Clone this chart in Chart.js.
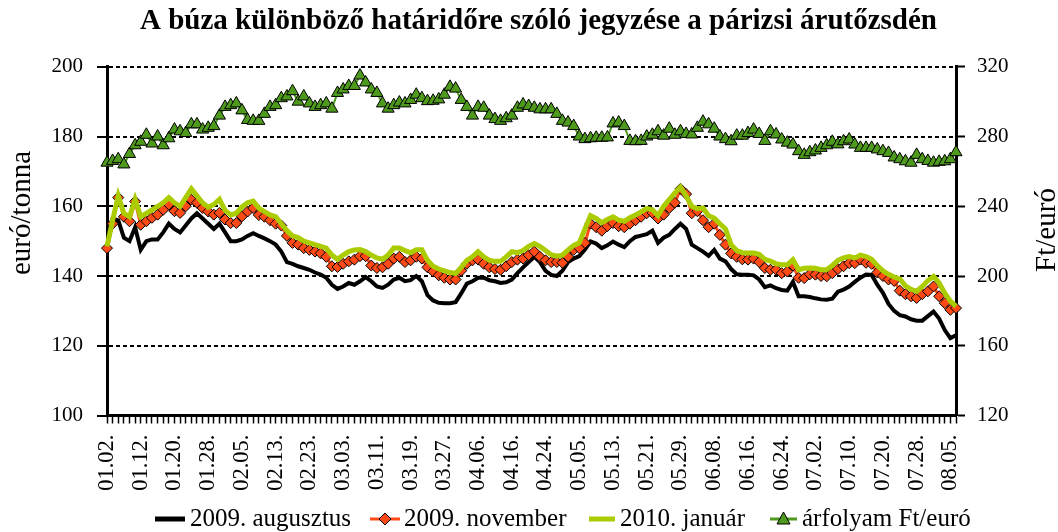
<!DOCTYPE html>
<html>
<head>
<meta charset="utf-8">
<script src="https://cdn.jsdelivr.net/npm/chart.js@4.4.1/dist/chart.umd.min.js"></script>
<style>
html,body{margin:0;padding:0;background:#ffffff;}
#wrap{width:1058px;height:532px;}
</style>
</head>
<body>
<div id="wrap"><canvas id="c" width="1058" height="532"></canvas></div>
<script>
const titleText = 'A búza különböző határidőre szóló jegyzése a párizsi árutőzsdén';
const leftAxisTitle = 'euró/tonna';
const rightAxisTitle = 'Ft/euró';
const seriesNames = ['2009. augusztus', '2009. november', '2010. január', 'árfolyam Ft/euró'];

// trading days (2009), every 6th one is labelled
const dates = [
 '01.02.','01.05.','01.06.','01.07.','01.08.','01.09.','01.12.','01.13.','01.14.','01.15.','01.16.','01.19.','01.20.','01.21.','01.22.','01.23.','01.26.','01.27.','01.28.','01.29.','01.30.',
 '02.02.','02.03.','02.04.','02.05.','02.06.','02.09.','02.10.','02.11.','02.12.','02.13.','02.16.','02.17.','02.18.','02.19.','02.20.','02.23.','02.24.','02.25.','02.26.','02.27.',
 '03.02.','03.03.','03.04.','03.05.','03.06.','03.09.','03.10.','03.11.','03.12.','03.13.','03.16.','03.17.','03.18.','03.19.','03.20.','03.23.','03.24.','03.25.','03.26.','03.27.','03.30.','03.31.',
 '04.01.','04.02.','04.03.','04.06.','04.07.','04.08.','04.09.','04.14.','04.15.','04.16.','04.17.','04.20.','04.21.','04.22.','04.23.','04.24.','04.27.','04.28.','04.29.','04.30.',
 '05.04.','05.05.','05.06.','05.07.','05.08.','05.11.','05.12.','05.13.','05.14.','05.15.','05.18.','05.19.','05.20.','05.21.','05.22.','05.25.','05.26.','05.27.','05.28.','05.29.',
 '06.01.','06.02.','06.03.','06.04.','06.05.','06.08.','06.09.','06.10.','06.11.','06.12.','06.15.','06.16.','06.17.','06.18.','06.19.','06.22.','06.23.','06.24.','06.25.','06.26.','06.29.','06.30.',
 '07.01.','07.02.','07.03.','07.06.','07.07.','07.08.','07.09.','07.10.','07.13.','07.14.','07.15.','07.16.','07.17.','07.20.','07.21.','07.22.','07.23.','07.24.','07.27.','07.28.','07.29.','07.30.','07.31.',
 '08.03.','08.04.','08.05.','08.06.'
];
const labelEvery = 6;

const leftAxis = {min: 100, max: 200, step: 20};
const rightAxis = {min: 120, max: 320, step: 40};

const aug2009 = [
 148,156.5,156,151,150,154,147.5,150,150.5,150.5,152.5,155,153.5,152.5,154.5,156.5,158,156.5,155,153.5,155,152.5,150,150,150.5,
 151.5,152.3,151.5,150.8,150,149,147,144,143.5,142.8,142.3,141.8,141,140.4,139.5,137.5,136.3,137,138,137.5,138.5,139.7,138.5,137,136.6,
 137.5,139,139.5,138.5,138.8,140,138.5,134.5,133,132.3,132.2,132.2,132.5,135,137.8,138.5,139.5,139.5,138.8,138.5,138,138.2,139,140.8,142.5,144,
 145.5,144,141.5,140.3,140,141.5,144,145,145.7,147.6,149.9,149.3,148,148.8,149.9,149,148.3,150,151.2,151.6,152,153,149.5,151,151.8,153.5,
 155,153.5,149,148,147,145.8,147.5,145,144.2,142,140.5,140.4,140.4,140.2,139,136.8,137.3,136.5,136,135.8,138.3,134.2,134.2,134,133.6,133.3,
 133.2,133.5,135.5,136.1,137,138.3,139.5,140.4,140.3,137.5,135.2,132,130,128.8,128.4,127.6,127.2,127.2,128.5,129.8,127.8,124.5,122.2,123
];
const nov2009 = [
 148,155,162.5,157,155.7,161.4,154.7,155.7,156.7,157.6,159,160.5,158.6,158.1,160,161.9,161,159.5,158.5,157.6,158.1,156.2,155.2,155.2,157.1,
 158.5,159.5,157.5,157,156,155,154.5,151.5,149.5,149,148,147.5,147,146.5,145.5,142.8,142.6,143.5,144.2,144.7,145.7,145.7,143,142.3,142.5,
 143.5,145,145.5,144,144.5,145.5,145,142.5,141.3,140.2,139.5,139,139,141.5,143.5,144.5,144.7,143.5,142.5,142,141.8,142.8,144,144.7,145,146,
 147,145.5,144.5,144,144,143.8,145.5,147.5,148,149.5,155,154,153,154.3,155.2,154.3,154,155,156,157,158,158.1,156.5,157.6,159.5,161,
 165,163.5,158,158.6,156,154,155,151.8,149,146.5,145.5,144.8,144.7,145,144,142.3,141.8,141.8,140.8,141.3,143,139.5,139.4,140.5,140.4,140,
 139.9,140.8,142,142.8,143.7,143.7,144.7,143.8,143.5,141,140,139,138.6,135.8,134.8,134.2,133.7,134.8,135.6,137,134.2,132.2,130.3,130.8
];
const jan2010 = [
 148.5,156,163,158,157,162,157,158,159,160,161,162.5,161,160,162.5,165,163,161,159.7,160.5,162,158.8,157.5,158,159.8,
 161,161.5,159.5,158.5,157.5,157,155,153,151.5,151,150,149.5,149,148.5,148,146,144.8,146,147,147.5,147.6,147,146,145.2,144.8,
 146,148,148,147.3,146.7,147.5,147.5,144.5,142.8,142,141.5,141,140.7,142.5,144.5,145.5,147,145.5,144.5,144.2,144.2,145.5,147,146.7,147.3,148.5,
 149.3,148.5,147.3,146.1,145.7,146,147.5,148.8,149.5,153.5,157.3,156.5,155.3,156.2,157,156,155.7,156.7,157.5,158.4,159.4,159,157.3,160,161.9,163.8,
 165.5,163,160,159.3,159.5,157.3,156.6,155,153.5,149,147.3,146.7,146.6,146.6,146.2,144.8,144.3,143.5,143.2,143.2,144.7,141.8,142.2,142.3,142.2,141.8,
 141.8,143,144.5,145.2,145.6,145.2,146,145.6,144.8,143,141.5,140.5,139.7,139.2,137.2,136.2,135.6,137,138.7,139.9,138,135.1,132.8,131.3
];
const hufPerEur = [
 265,266,267,264,270,275,277,281,276,280,275,279,284,283,282,287,287,284,285,286,292,297,298,299,295,
 289.5,289,289,293,297,298,302,303,306,300,303,299,297,298,299,296,305,307,309,309,315,311,307,305,299,
 296,298,299.5,299,301,304,302,300.3,300.5,301.3,304,308.5,307.5,301,297,292,297,296.5,292,290,289,290.5,292,296.5,298.4,297.5,
 296.5,295.6,295.6,295.6,293,289,288,286,280,278.5,279,279.3,279.3,279.5,287.5,288,286,277.5,277.3,277.5,280,281,283,280.5,284.5,281,
 283,281.5,281.2,285,288.5,287,284.5,280,278.5,277.3,280.5,280.5,282,284,281.5,277.5,283,281.2,278.3,276.5,275.4,271.6,269.5,271,272,273.5,
 275,277,275.5,277.3,278.3,275.4,273.5,273.5,273.5,272.6,271.6,270.6,268,267,265.8,265,269.5,267,266,265,265.5,265.8,267,271
];

const FONT = '"Liberation Serif", "Times New Roman", serif';
const C_BLACK = '#000000';
const C_ORANGE = '#FF4A17';
const C_LIME = '#AACC00';
const C_GREEN = '#4E9A1C';

// axis titles + legend drawn on the canvas as text
const extras = {
  id: 'extras',
  afterDraw(chart) {
    const ctx = chart.ctx;
    ctx.save();
    ctx.fillStyle = '#000';
    ctx.font = '29px ' + FONT;
    ctx.textAlign = 'center';
    ctx.textBaseline = 'middle';
    ctx.save(); ctx.translate(22, 213); ctx.rotate(-Math.PI / 2); ctx.fillText(leftAxisTitle, 0, 0); ctx.restore();
    ctx.save(); ctx.translate(1047, 230); ctx.rotate(-Math.PI / 2); ctx.fillText(rightAxisTitle, 0, 0); ctx.restore();

    const ly = 519;
    const items = [
      {x0: 155, x1: 185, tx: 190, color: C_BLACK, w: 5, marker: null},
      {x0: 370, x1: 400, tx: 404, color: C_ORANGE, w: 3, marker: 'diamond'},
      {x0: 589, x1: 615, tx: 620, color: C_LIME, w: 5, marker: null},
      {x0: 770, x1: 797, tx: 802, color: C_GREEN, w: 3, marker: 'triangle'}
    ];
    ctx.font = '25px ' + FONT;
    ctx.textAlign = 'left';
    items.forEach((it, i) => {
      ctx.strokeStyle = it.color; ctx.lineWidth = it.w;
      ctx.beginPath(); ctx.moveTo(it.x0, ly); ctx.lineTo(it.x1, ly); ctx.stroke();
      const cx = (it.x0 + it.x1) / 2;
      if (it.marker === 'diamond') {
        ctx.beginPath(); ctx.moveTo(cx, ly - 6); ctx.lineTo(cx + 6, ly); ctx.lineTo(cx, ly + 6); ctx.lineTo(cx - 6, ly); ctx.closePath();
        ctx.fillStyle = C_ORANGE; ctx.fill(); ctx.lineWidth = 1; ctx.strokeStyle = '#000'; ctx.stroke();
      } else if (it.marker === 'triangle') {
        ctx.beginPath(); ctx.moveTo(cx, ly - 7); ctx.lineTo(cx + 6.5, ly + 5); ctx.lineTo(cx - 6.5, ly + 5); ctx.closePath();
        ctx.fillStyle = C_GREEN; ctx.fill(); ctx.lineWidth = 1; ctx.strokeStyle = '#000'; ctx.stroke();
      }
      ctx.fillStyle = '#000';
      ctx.fillText(seriesNames[i], it.tx, ly);
    });
    ctx.restore();
  }
};

new Chart(document.getElementById('c'), {
  type: 'line',
  data: {
    labels: dates,
    datasets: [
      {label: seriesNames[0], data: aug2009, yAxisID: 'y', borderColor: C_BLACK, borderWidth: 4, pointRadius: 0, order: 3, clip: false},
      {label: seriesNames[1], data: nov2009, yAxisID: 'y', borderColor: C_ORANGE, backgroundColor: C_ORANGE, borderWidth: 3,
       pointStyle: 'rectRot', pointRadius: 5.5, pointBackgroundColor: C_ORANGE, pointBorderColor: '#000', pointBorderWidth: 1, order: 2, clip: false},
      {label: seriesNames[2], data: jan2010, yAxisID: 'y', borderColor: C_LIME, borderWidth: 5, pointRadius: 0, order: 1, clip: false},
      {label: seriesNames[3], data: hufPerEur, yAxisID: 'y1', borderColor: C_GREEN, backgroundColor: C_GREEN, borderWidth: 2,
       pointStyle: 'triangle', pointRadius: 7, pointBackgroundColor: C_GREEN, pointBorderColor: '#000', pointBorderWidth: 1, order: 0, clip: false}
    ]
  },
  options: {
    responsive: false,
    animation: false,
    devicePixelRatio: 1,
    layout: {padding: {left: 19, right: 0, top: 0, bottom: 0}},
    plugins: {
      legend: {display: false},
      tooltip: {enabled: false},
      title: {display: true, text: titleText, color: '#000',
        font: {family: FONT, size: 29, weight: 'bold'}, padding: {top: 4, bottom: 28}}
    },
    scales: {
      x: {
        type: 'category', offset: false,
        ticks: {autoSkip: false, minRotation: 90, maxRotation: 90, color: '#000', padding: 11,
          font: {family: FONT, size: 22.5},
          callback: (v, i) => (i % labelEvery === 0 ? dates[i] : '')},
        grid: {drawOnChartArea: false, drawTicks: true, tickLength: 8, tickWidth: 1.5, tickColor: '#000'},
        border: {color: '#000', width: 3},
        afterFit: (s) => { s.height = 116.5; }
      },
      y: {
        position: 'left', min: leftAxis.min, max: leftAxis.max,
        ticks: {stepSize: leftAxis.step, color: '#000', padding: 14, font: {family: FONT, size: 21}},
        grid: {color: '#000', lineWidth: 2, drawTicks: true, tickLength: 10, tickWidth: 2, tickColor: '#000'},
        border: {color: '#000', width: 3, dash: [4, 3]},
        afterFit: (s) => { s.width = 88; }
      },
      y1: {
        position: 'right', min: rightAxis.min, max: rightAxis.max,
        ticks: {stepSize: rightAxis.step, color: '#000', padding: 12, font: {family: FONT, size: 21}},
        grid: {drawOnChartArea: false, drawTicks: true, tickLength: 9, tickWidth: 2, tickColor: '#000'},
        border: {color: '#000', width: 3},
        afterFit: (s) => { s.width = 102; }
      }
    }
  },
  plugins: [extras]
});
</script>
</body>
</html>
